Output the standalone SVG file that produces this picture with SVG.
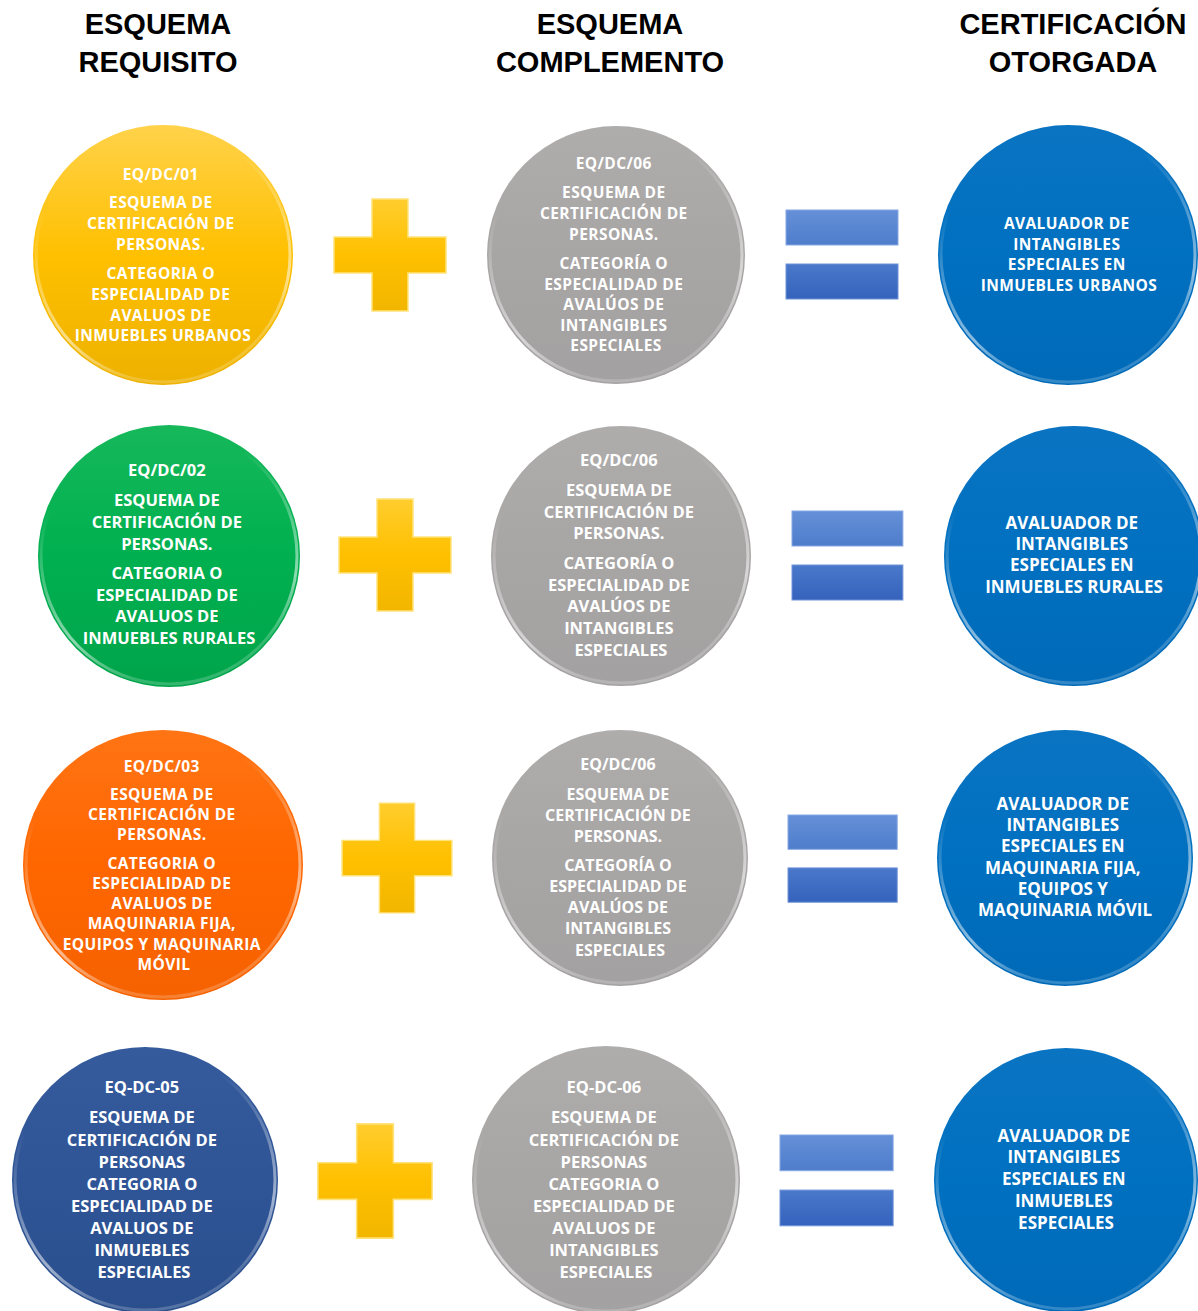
<svg xmlns="http://www.w3.org/2000/svg" width="1198" height="1311" viewBox="0 0 1198 1311">
<style>
  .hd{font-family:"Liberation Sans",Arial,sans-serif;font-weight:700;font-size:29px;fill:#000;text-anchor:middle}
  .ct{font-family:"Open Sans","Noto Sans",sans-serif;font-weight:700;fill:#fff;text-anchor:middle}
  .s1{font-size:15.5px;letter-spacing:0.4px}
  .s2{font-size:16.5px}
  .s3{font-size:16px}
  .s4{font-size:17px}
  .rim{fill:none;stroke:url(#rimG);stroke-width:3}
</style>
<defs>
  <linearGradient id="gY" x1="0" y1="0" x2="0" y2="1"><stop offset="0" stop-color="#FFD24A"/><stop offset="0.5" stop-color="#FFC000"/><stop offset="1" stop-color="#EDB100"/></linearGradient>
  <linearGradient id="gG" x1="0" y1="0" x2="0" y2="1"><stop offset="0" stop-color="#16B85A"/><stop offset="0.5" stop-color="#00B050"/><stop offset="1" stop-color="#00A44A"/></linearGradient>
  <linearGradient id="gO" x1="0" y1="0" x2="0" y2="1"><stop offset="0" stop-color="#FF7414"/><stop offset="0.5" stop-color="#FF6600"/><stop offset="1" stop-color="#F56200"/></linearGradient>
  <linearGradient id="gN" x1="0" y1="0" x2="0" y2="1"><stop offset="0" stop-color="#365B9C"/><stop offset="0.5" stop-color="#2F5597"/><stop offset="1" stop-color="#2B4F8D"/></linearGradient>
  <linearGradient id="gS" x1="0" y1="0" x2="0" y2="1"><stop offset="0" stop-color="#AFACAC"/><stop offset="0.5" stop-color="#A8A5A5"/><stop offset="1" stop-color="#A3A1A1"/></linearGradient>
  <linearGradient id="gB" x1="0" y1="0" x2="0" y2="1"><stop offset="0" stop-color="#0A74C2"/><stop offset="0.5" stop-color="#0070C0"/><stop offset="1" stop-color="#006AB8"/></linearGradient>
  <linearGradient id="rimG" x1="0" y1="0" x2="0.3" y2="1"><stop offset="0.3" stop-color="#fff" stop-opacity="0"/><stop offset="0.8" stop-color="#fff" stop-opacity="0.55"/><stop offset="1" stop-color="#fff" stop-opacity="0.2"/></linearGradient>
  <linearGradient id="gPlus" x1="0" y1="0" x2="0" y2="1"><stop offset="0" stop-color="#FFCD2E"/><stop offset="0.5" stop-color="#FFC000"/><stop offset="1" stop-color="#F2B600"/></linearGradient>
  <linearGradient id="gEq1" x1="0" y1="0" x2="0" y2="1"><stop offset="0" stop-color="#6590D8"/><stop offset="1" stop-color="#4F7DCB"/></linearGradient>
  <linearGradient id="gEq2" x1="0" y1="0" x2="0" y2="1"><stop offset="0" stop-color="#4A78CA"/><stop offset="1" stop-color="#3563BD"/></linearGradient>
  <path id="plus" d="M-18,-56 h36 v38 h38 v36 h-38 v38 h-36 v-38 h-38 v-36 h38 z" fill="url(#gPlus)" stroke="#FFE27A" stroke-width="1.5"/>
  <g id="eq">
    <rect x="0" y="0" width="112" height="35" fill="url(#gEq1)" stroke="#86A8E4" stroke-width="1"/>
    <rect x="0" y="54" width="112" height="35" fill="url(#gEq2)" stroke="#6F93D8" stroke-width="1"/>
  </g>
</defs>
<rect width="1198" height="1311" fill="#fff"/>

<g id="headers">
  <text class="hd" x="158" y="34">ESQUEMA</text>
  <text class="hd" x="158" y="72">REQUISITO</text>
  <text class="hd" x="610" y="34">ESQUEMA</text>
  <text class="hd" x="610" y="72">COMPLEMENTO</text>
  <text class="hd" x="1073" y="34">CERTIFICACIÓN</text>
  <text class="hd" x="1073" y="72">OTORGADA</text>
</g>

<!-- Row 1 -->
<g id="req-01">
  <circle cx="163" cy="255" r="130" fill="url(#gY)"/>
  <circle cx="163" cy="255" r="127" class="rim"/>
  <text class="ct s1">
    <tspan x="163" y="180">EQ/DC/01</tspan>
    <tspan x="163" y="208">ESQUEMA DE</tspan>
    <tspan x="163" y="229">CERTIFICACIÓN  DE</tspan>
    <tspan x="163" y="250">PERSONAS.</tspan>
    <tspan x="163" y="279">CATEGORIA O</tspan>
    <tspan x="163" y="300">ESPECIALIDAD DE</tspan>
    <tspan x="163" y="321">AVALUOS DE</tspan>
    <tspan x="163" y="341">INMUEBLES URBANOS</tspan>
  </text>
</g>
<g id="comp-1">
  <circle cx="616" cy="255" r="129" fill="url(#gS)"/>
  <circle cx="616" cy="255" r="126" class="rim"/>
  <text class="ct s1">
    <tspan x="616" y="169">EQ/DC/06</tspan>
    <tspan x="616" y="198">ESQUEMA DE</tspan>
    <tspan x="616" y="219">CERTIFICACIÓN  DE</tspan>
    <tspan x="616" y="240">PERSONAS.</tspan>
    <tspan x="616" y="269">CATEGORÍA O</tspan>
    <tspan x="616" y="290">ESPECIALIDAD DE</tspan>
    <tspan x="616" y="310">AVALÚOS DE</tspan>
    <tspan x="616" y="331">INTANGIBLES</tspan>
    <tspan x="616" y="351">ESPECIALES</tspan>
  </text>
</g>
<g id="cert-1">
  <circle cx="1068" cy="255" r="130" fill="url(#gB)"/>
  <circle cx="1068" cy="255" r="127" class="rim"/>
  <text class="ct s1">
    <tspan x="1069" y="229">AVALUADOR DE</tspan>
    <tspan x="1069" y="250">INTANGIBLES</tspan>
    <tspan x="1069" y="270">ESPECIALES EN</tspan>
    <tspan x="1069" y="291">INMUEBLES URBANOS</tspan>
  </text>
</g>

<!-- Row 2 -->
<g id="req-02">
  <circle cx="169" cy="556" r="131" fill="url(#gG)"/>
  <circle cx="169" cy="556" r="128" class="rim"/>
  <text class="ct s2">
    <tspan x="169" y="476">EQ/DC/02</tspan>
    <tspan x="169" y="506">ESQUEMA DE</tspan>
    <tspan x="169" y="528">CERTIFICACIÓN DE</tspan>
    <tspan x="169" y="550">PERSONAS.</tspan>
    <tspan x="169" y="579">CATEGORIA O</tspan>
    <tspan x="169" y="601">ESPECIALIDAD DE</tspan>
    <tspan x="169" y="622">AVALUOS DE</tspan>
    <tspan x="169" y="644">INMUEBLES RURALES</tspan>
  </text>
</g>
<g id="comp-2">
  <circle cx="621" cy="556" r="130" fill="url(#gS)"/>
  <circle cx="621" cy="556" r="127" class="rim"/>
  <text class="ct s2">
    <tspan x="621" y="466">EQ/DC/06</tspan>
    <tspan x="621" y="496">ESQUEMA DE</tspan>
    <tspan x="621" y="518">CERTIFICACIÓN DE</tspan>
    <tspan x="621" y="539">PERSONAS.</tspan>
    <tspan x="621" y="569">CATEGORÍA O</tspan>
    <tspan x="621" y="591">ESPECIALIDAD DE</tspan>
    <tspan x="621" y="612">AVALÚOS DE</tspan>
    <tspan x="621" y="634">INTANGIBLES</tspan>
    <tspan x="621" y="656">ESPECIALES</tspan>
  </text>
</g>
<g id="cert-2">
  <circle cx="1074" cy="556" r="130" fill="url(#gB)"/>
  <circle cx="1074" cy="556" r="127" class="rim"/>
  <text class="ct s4">
    <tspan x="1074" y="529">AVALUADOR DE</tspan>
    <tspan x="1074" y="550">INTANGIBLES</tspan>
    <tspan x="1074" y="571">ESPECIALES EN</tspan>
    <tspan x="1074" y="593">INMUEBLES RURALES</tspan>
  </text>
</g>

<!-- Row 3 -->
<g id="req-03">
  <ellipse cx="163" cy="865" rx="140" ry="135" fill="url(#gO)"/>
  <ellipse cx="163" cy="865" rx="137" ry="132" class="rim"/>
  <text class="ct s1">
    <tspan x="164" y="772">EQ/DC/03</tspan>
    <tspan x="164" y="800">ESQUEMA DE</tspan>
    <tspan x="164" y="820">CERTIFICACIÓN  DE</tspan>
    <tspan x="164" y="840">PERSONAS.</tspan>
    <tspan x="164" y="869">CATEGORIA O</tspan>
    <tspan x="164" y="889">ESPECIALIDAD DE</tspan>
    <tspan x="164" y="909">AVALUOS DE</tspan>
    <tspan x="164" y="929">MAQUINARIA FIJA,</tspan>
    <tspan x="164" y="950">EQUIPOS Y MAQUINARIA</tspan>
    <tspan x="164" y="970">MÓVIL</tspan>
  </text>
</g>
<g id="comp-3">
  <circle cx="620" cy="858" r="128" fill="url(#gS)"/>
  <circle cx="620" cy="858" r="125" class="rim"/>
  <text class="ct s3">
    <tspan x="620" y="770">EQ/DC/06</tspan>
    <tspan x="620" y="800">ESQUEMA DE</tspan>
    <tspan x="620" y="821">CERTIFICACIÓN DE</tspan>
    <tspan x="620" y="842">PERSONAS.</tspan>
    <tspan x="620" y="871">CATEGORÍA O</tspan>
    <tspan x="620" y="892">ESPECIALIDAD DE</tspan>
    <tspan x="620" y="913">AVALÚOS DE</tspan>
    <tspan x="620" y="934">INTANGIBLES</tspan>
    <tspan x="620" y="956">ESPECIALES</tspan>
  </text>
</g>
<g id="cert-3">
  <circle cx="1065" cy="858" r="128" fill="url(#gB)"/>
  <circle cx="1065" cy="858" r="125" class="rim"/>
  <text class="ct s4">
    <tspan x="1065" y="810">AVALUADOR DE</tspan>
    <tspan x="1065" y="831">INTANGIBLES</tspan>
    <tspan x="1065" y="852">ESPECIALES EN</tspan>
    <tspan x="1065" y="874">MAQUINARIA FIJA,</tspan>
    <tspan x="1065" y="895">EQUIPOS Y</tspan>
    <tspan x="1065" y="916">MAQUINARIA MÓVIL</tspan>
  </text>
</g>

<!-- Row 4 -->
<g id="req-05">
  <circle cx="145" cy="1180" r="133" fill="url(#gN)"/>
  <circle cx="145" cy="1180" r="130" class="rim"/>
  <text class="ct s2">
    <tspan x="144" y="1093">EQ-DC-05</tspan>
    <tspan x="144" y="1123">ESQUEMA DE</tspan>
    <tspan x="144" y="1146">CERTIFICACIÓN DE</tspan>
    <tspan x="144" y="1168">PERSONAS</tspan>
    <tspan x="144" y="1190">CATEGORIA O</tspan>
    <tspan x="144" y="1212">ESPECIALIDAD DE</tspan>
    <tspan x="144" y="1234">AVALUOS DE</tspan>
    <tspan x="144" y="1256">INMUEBLES</tspan>
    <tspan x="144" y="1278">ESPECIALES</tspan>
  </text>
</g>
<g id="comp-4">
  <circle cx="606" cy="1180" r="134" fill="url(#gS)"/>
  <circle cx="606" cy="1180" r="131" class="rim"/>
  <text class="ct s2">
    <tspan x="606" y="1093">EQ-DC-06</tspan>
    <tspan x="606" y="1123">ESQUEMA DE</tspan>
    <tspan x="606" y="1146">CERTIFICACIÓN DE</tspan>
    <tspan x="606" y="1168">PERSONAS</tspan>
    <tspan x="606" y="1190">CATEGORIA O</tspan>
    <tspan x="606" y="1212">ESPECIALIDAD DE</tspan>
    <tspan x="606" y="1234">AVALUOS DE</tspan>
    <tspan x="606" y="1256">INTANGIBLES</tspan>
    <tspan x="606" y="1278">ESPECIALES</tspan>
  </text>
</g>
<g id="cert-4">
  <circle cx="1066" cy="1180" r="132" fill="url(#gB)"/>
  <circle cx="1066" cy="1180" r="129" class="rim"/>
  <text class="ct s4">
    <tspan x="1066" y="1142">AVALUADOR DE</tspan>
    <tspan x="1066" y="1163">INTANGIBLES</tspan>
    <tspan x="1066" y="1185">ESPECIALES EN</tspan>
    <tspan x="1066" y="1207">INMUEBLES</tspan>
    <tspan x="1066" y="1229">ESPECIALES</tspan>
  </text>
</g>

<g id="connectors">
  <use href="#plus" transform="translate(390,255)"/>
  <use href="#plus" transform="translate(395,555)"/>
  <use href="#plus" transform="translate(397,858) scale(0.98)"/>
  <use href="#plus" transform="translate(375,1181) scale(1.02)"/>
  <use href="#eq" transform="translate(786,210)"/>
  <use href="#eq" transform="translate(792,511) scale(0.99,1)"/>
  <use href="#eq" transform="translate(788,815) scale(0.975,0.98)"/>
  <use href="#eq" transform="translate(780,1135) scale(1.01,1.02)"/>
</g>
</svg>
